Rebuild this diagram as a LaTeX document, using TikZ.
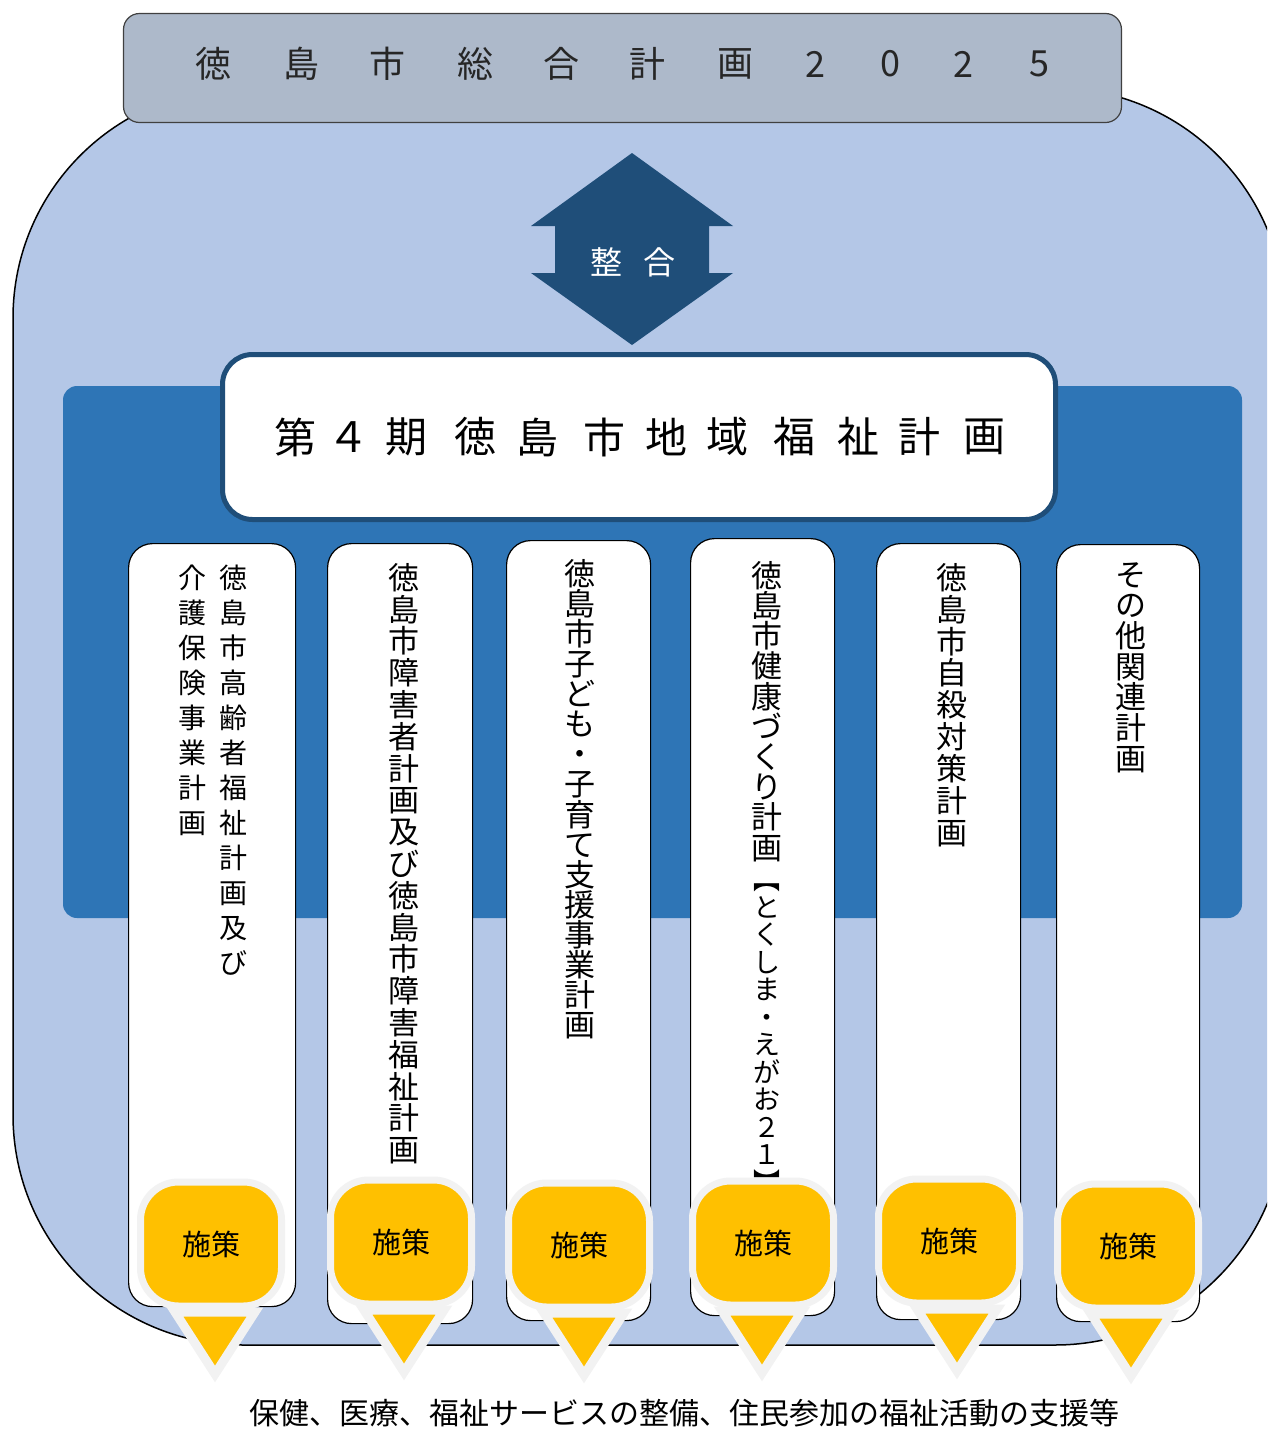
\documentclass[tikz,border=0pt]{standalone}
\usepackage{fontspec}
\setmainfont{Noto Sans CJK JP}
\usetikzlibrary{positioning}
\usetikzlibrary{calc}

\definecolor{haikei}{HTML}{B4C7E7}
\definecolor{obi}{HTML}{2E75B6}
\definecolor{kon}{HTML}{1F4E79}
\definecolor{hai}{HTML}{ADB9CA}
\definecolor{kiiro}{HTML}{FFC000}
\definecolor{fuchi}{HTML}{F2F2F2}

% vertical text: one character per line
\newcommand\tate[2]{\vbox{\baselineskip=#1pt\lineskiplimit=-100pt\tateloop#2\relax}}
\def\tateloop#1{\ifx\relax#1\else\hbox to 1em{\hss#1\hss}\expandafter\tateloop\fi}

\tikzset{
	sogo/.style={draw=black!75, fill=hai, line width=1.2pt, rounded corners=16pt, minimum width=998pt, minimum height=109pt, inner sep=0pt},
	sogomoji/.style={text=black!85, font=\fontsize{36}{36}\selectfont, inner sep=0pt},
	keikaku/.style={draw=kon, fill=white, line width=5pt, rounded corners=30pt, minimum width=833pt, minimum height=165pt},
	planbox/.style={draw=black, fill=white, line width=1.2pt, rounded corners=24pt, anchor=north west, inner sep=0pt},
	tatemoji/.style={anchor=north, inner sep=0pt, font=\fontsize{31}{31}\selectfont},
	shisaku/.style={draw=fuchi, fill=kiiro, line width=7pt, rounded corners=38pt, minimum width=141pt, minimum height=124pt, outer sep=0pt, font=\fontsize{29}{29}\selectfont},
	pointer/.style={draw=fuchi, fill=kiiro, line width=9pt, line join=miter},
}

\begin{document}
\begin{tikzpicture}[x=1pt, y=-1pt]
	\useasboundingbox (0,0) rectangle (1267,1430);
	\clip (0,0) rectangle (1267,1430);
	% background
	\draw[fill=haikei, line width=1.5pt, rounded corners=230pt] (13,88) rectangle (1285,1345);
	\fill[obi, rounded corners=14pt] (63,386) rectangle (1242,918);
	% sogo keikaku
	\node[sogo] (sogo) at (622.5,68) {};
	\foreach \c/\x [count=\i] in {徳/213,島/301,市/387,総/475,合/561,計/647,画/735,2/815,0/890,2/963,5/1039}
		\node[sogomoji] (g\i) at (\x,64) {\c};
	% seigou
	\fill[kon] (632,153) -- (733,226) -- (709,226) -- (709,273) -- (733,273) -- (632,345) -- (531,273) -- (555,273) -- (555,226) -- (531,226) -- cycle;
	\node[text=white, font=\fontsize{32}{32}\selectfont] (seigou) at (633,262) {整\hspace{22pt}合};
	% chiiki fukushi keikaku
	\node[keikaku] (keikaku) at (639,437) {};
	\foreach \c/\x [count=\i] in {第/295,４/348,期/406,徳/475,島/537,市/604,地/666,域/727,福/794,祉/858,計/919,画/984}
		\node[font=\fontsize{42}{42}\selectfont, inner sep=0pt] (k\i) at (\x,437) {\c};
	% kobetsu keikaku
	\node[planbox, minimum width=167pt, minimum height=763pt] (p1) at (128,543) {};
	\node[planbox, minimum width=145pt, minimum height=780pt] (p2) at (327,543) {};
	\node[planbox, minimum width=144pt, minimum height=780pt] (p3) at (506,540) {};
	\node[planbox, minimum width=144pt, minimum height=777pt] (p4) at (690,538) {};
	\node[planbox, minimum width=144pt, minimum height=776pt] (p5) at (876,543) {};
	\node[planbox, minimum width=143pt, minimum height=777pt] (p6) at (1056,544) {};
	\node[tatemoji, font=\fontsize{28}{28}\selectfont] (m1a) at ([xshift=21pt, yshift=-22pt]p1.north) {\tate{35}{徳島市高齢者福祉計画及び}};
	\node[tatemoji, font=\fontsize{28}{28}\selectfont] (m1b) at ([xshift=-20pt, yshift=-22pt]p1.north) {\tate{35}{介護保険事業計画}};
	\node[tatemoji] (m2) at ([xshift=4pt, yshift=-20pt]p2.north) {\tate{31.8}{徳島市障害者計画及び徳島市障害福祉計画}};
	\node[tatemoji] (m3) at ([xshift=1pt, yshift=-19pt]p3.north) {\tate{30.1}{徳島市子ども・子育て支援事業計画}};
	\node[tatemoji] (m4a) at ([xshift=4pt, yshift=-23pt]p4.north) {\tate{30.2}{徳島市健康づくり計画}};
	\node[tatemoji, font=\fontsize{27}{27}\selectfont] (m4b) at ([xshift=4pt, yshift=-346pt]p4.north) {\tate{27.5}{︻とくしま・えがお２１︼}};
	\node[tatemoji] (m5) at ([xshift=3pt, yshift=-20pt]p5.north) {\tate{31.9}{徳島市自殺対策計画}};
	\node[tatemoji] (m6) at ([xshift=3pt, yshift=-18pt]p6.north) {\tate{30.7}{その他関連計画}};
	% shisaku
	\foreach \x/\y/\d [count=\i] in {211/1244/4,401/1242/3,579/1245/5,763/1243/-1,949/1241/8,1128/1246/3} {
		\node[shisaku] (s\i) at (\x,\y) {施策};
		\draw[pointer] ([xshift={\d-40}, yshift=-6pt]s\i.south) -- ([xshift={\d+40}, yshift=-6pt]s\i.south) -- ([xshift=\d, yshift=-68pt]s\i.south) -- cycle;
	}
	\node[font=\fontsize{30}{30}\selectfont] (naiyo) at (684,1413) {保健、医療、福祉サービスの整備、住民参加の福祉活動の支援等};
\end{tikzpicture}
\end{document}
